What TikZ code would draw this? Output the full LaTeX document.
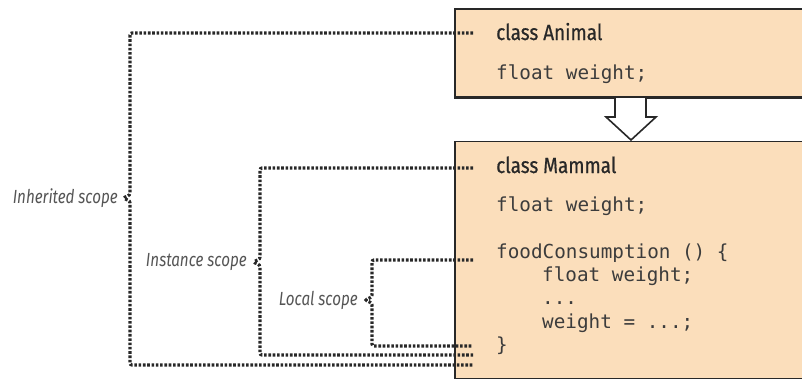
\documentclass[tikz,border=0pt]{standalone}
\usepackage{fontspec}
\newfontfamily\headfont[FakeStretch=0.86,FakeBold=0.6]{Fira Sans}
\newfontfamily\scopefont[FakeStretch=0.8]{Fira Sans}
\newfontfamily\codefont{DejaVu Sans Mono}
\definecolor{boxfill}{RGB}{251,222,187}
\definecolor{inkdark}{RGB}{40,40,40}
\definecolor{codeink}{RGB}{60,60,60}
\definecolor{labelgray}{RGB}{85,85,85}
\tikzset{
  classbox/.style={draw=inkdark, line width=1.8pt, fill=boxfill},
  header/.style={anchor=base west, inner sep=0pt, font=\headfont\fontsize{22}{26}\selectfont, text=inkdark},
  code/.style={anchor=base west, inner sep=0pt, font=\codefont\fontsize{19.3}{23}\selectfont, text=codeink},
  scopelabel/.style={anchor=east, inner sep=0pt, font=\scopefont\itshape\fontsize{19}{22}\selectfont, text=labelgray},
  scopeline/.style={draw=inkdark, line width=3.2pt, dash pattern=on 2.6pt off 1.7pt, rounded corners=2pt},
  inherit/.style={draw=inkdark, line width=1.6pt, fill=white, line join=miter}
}
\begin{document}
\begin{tikzpicture}[x=1pt, y=-1pt]
  \useasboundingbox (0,0) rectangle (802,381);
  \clip (0,0) rectangle (802,381);

  % class boxes
  \node[classbox, anchor=north west, minimum width=380pt, minimum height=89pt, inner sep=0pt] (animal) at (454,8) {};
  \node[classbox, anchor=north west, minimum width=380pt, minimum height=237pt, inner sep=0pt] (mammal) at (454,140.5) {};

  % hollow inheritance arrow
  \draw[inherit] (615,97) -- (615,117) -- (606,117) -- (631,140) -- (656,117) -- (646,117) -- (646,97);
  \draw[draw=inkdark, line width=1.8pt] (454,97) -- (802,97);

  % class Animal
  \node[header] (ahead) at (496,40) {class Animal};
  \node[code] (afield) at (496,79) {float weight;};

  % class Mammal
  \node[header] (mhead) at (496,173) {class Mammal};
  \node[code] (mfield) at (496,211) {float weight;};
  \node[code] (meth) at (496,258) {foodConsumption () \{};
  \node[code] (mlocal) at (542,281) {float weight;};
  \node[code] (mdots) at (542,304) {...};
  \node[code] (massign) at (542,328) {weight = ...;};
  \node[code] (mclose) at (496,351) {\}};

  % scope labels
  \node[scopelabel] (inh) at (118,198) {Inherited scope};
  \node[scopelabel] (inst) at (247,262) {Instance scope};
  \node[scopelabel] (loc) at (358,300) {Local scope};

  % ends of the scope brackets
  \coordinate (inhTop) at (473,33);
  \coordinate (inhBot) at (473,365);
  \coordinate (instTop) at (473,168);
  \coordinate (instBot) at (473,355);
  \coordinate (locTop) at (473,260);
  \coordinate (locBot) at (473,346);

  % inherited scope
  \draw[scopeline] (inhTop) -- (130,33) -- (130,189)
    .. controls (130,195) .. (123,198)
    .. controls (130,201) .. (130,207) -- (130,365) -- (inhBot);
  % instance scope
  \draw[scopeline] (instTop) -- (260,168) -- (260,253)
    .. controls (260,259) .. (253,262)
    .. controls (260,265) .. (260,271) -- (260,355) -- (instBot);
  % local scope
  \draw[scopeline] (locTop) -- (372,260) -- (372,291)
    .. controls (372,297) .. (365,300)
    .. controls (372,303) .. (372,309) -- (372,346) -- (locBot);
\end{tikzpicture}
\end{document}
